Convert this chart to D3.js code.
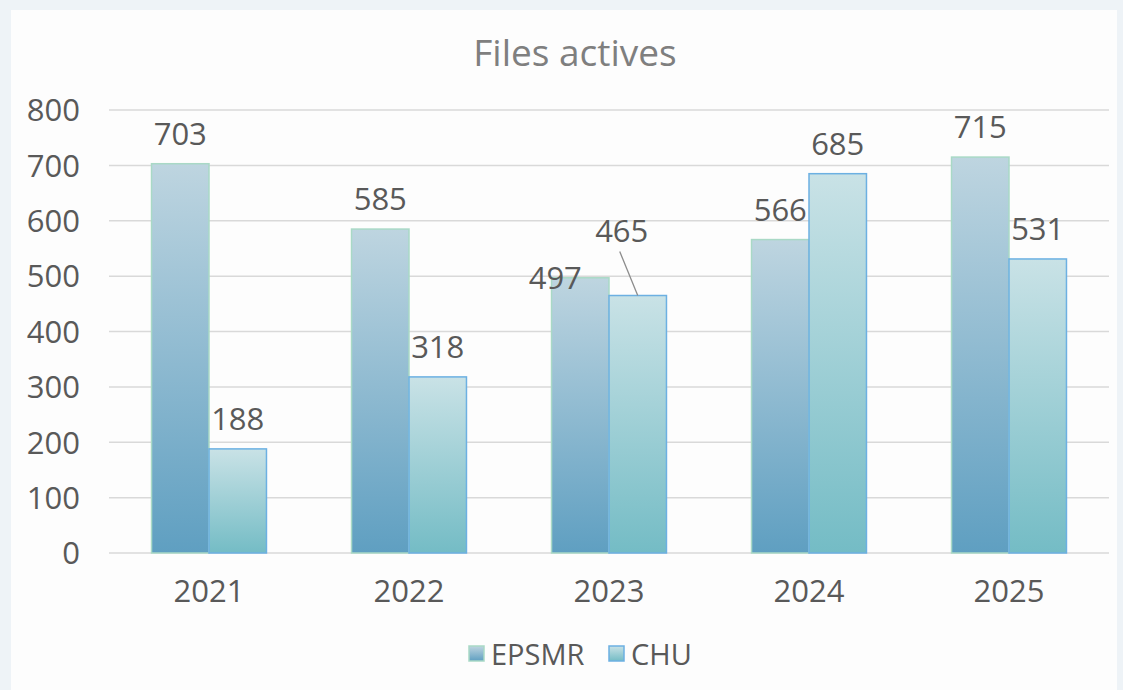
<!DOCTYPE html>
<html>
<head>
<meta charset="utf-8">
<script src="https://cdn.jsdelivr.net/npm/d3@7"></script>
<style>
  body { margin: 0; background: #eef3f7; }
  svg { display: block; }
  text { font-family: "Open Sans", sans-serif; }
</style>
</head>
<body>
<svg id="chart" width="1123" height="690"></svg>
<script>
// Data
var years = ["2021", "2022", "2023", "2024", "2025"];
var epsmr = [703, 585, 497, 566, 715];
var chu = [188, 318, 465, 685, 531];
var seriesNames = ["EPSMR", "CHU"];
var yTicks = [0, 100, 200, 300, 400, 500, 600, 700, 800];

var svg = d3.select("#chart");

// white chart panel
svg.append("rect").attr("x", 11).attr("y", 10).attr("width", 1106).attr("height", 690).attr("fill", "#fdfdfd");

var margin = {left: 109, right: 14, top: 110, bottom: 137};
var width = 1123 - margin.left - margin.right,
    height = 690 - margin.top - margin.bottom;

var defs = svg.append("defs");
var g1 = defs.append("linearGradient").attr("id", "gEps").attr("x1", 0).attr("y1", 0).attr("x2", 0).attr("y2", 1);
g1.append("stop").attr("offset", "0%").attr("stop-color", "#bed5e0");
g1.append("stop").attr("offset", "100%").attr("stop-color", "#5f9fc1");
var g2 = defs.append("linearGradient").attr("id", "gChu").attr("x1", 0).attr("y1", 0).attr("x2", 0).attr("y2", 1);
g2.append("stop").attr("offset", "0%").attr("stop-color", "#c9e2e6");
g2.append("stop").attr("offset", "100%").attr("stop-color", "#74bcc5");

var fills = ["url(#gEps)", "url(#gChu)"];
var strokes = ["#a9d9c6", "#6cb0e2"];

var g = svg.append("g").attr("transform", "translate(" + margin.left + "," + margin.top + ")");

var x = d3.scaleBand().domain(years).range([0, width]).paddingInner(0).paddingOuter(0);
var xs = d3.scaleBand().domain(seriesNames).range([0, x.bandwidth()]).paddingInner(0).paddingOuter(0.74);
var y = d3.scaleLinear().domain([0, 800]).range([height, 0]);

// gridlines
g.selectAll("line.grid")
  .data(yTicks)
  .enter().append("line")
    .attr("x1", 0).attr("x2", width)
    .attr("y1", d => y(d)).attr("y2", d => y(d))
    .style("stroke", "#d9d9d9")
    .style("stroke-width", 1.5);

// y axis labels
var yAxis = d3.axisLeft(y).tickValues(yTicks).tickSize(0).tickPadding(29);
var ya = g.append("g").call(yAxis);
ya.select(".domain").remove();
ya.selectAll("text").style("font-size", "31px").attr("fill", "#595959").attr("dy", "0.35em");

// x axis labels
var xAxis = d3.axisBottom(x).tickSize(0).tickPadding(27);
var xa = g.append("g").attr("transform", "translate(0," + height + ")").call(xAxis);
xa.select(".domain").remove();
xa.selectAll("text").style("font-size", "31px").attr("fill", "#595959");

var data = years.map((yr, i) => ({year: yr, values: [epsmr[i], chu[i]]}));

// label offsets (dx, dy) for the crowded 2023 group
var labelShift = {"2023": [[-25, 30], [-16, -35]]};

var grp = g.selectAll("g.year")
  .data(data)
  .enter().append("g")
    .attr("transform", d => "translate(" + x(d.year) + ",0)");

grp.selectAll("rect")
  .data(d => d.values.map((v, k) => ({name: seriesNames[k], k: k, v: v, year: d.year})))
  .enter().append("rect")
    .attr("x", d => xs(d.name))
    .attr("y", d => y(d.v))
    .attr("width", xs.bandwidth())
    .attr("height", d => height - y(d.v))
    .attr("fill", d => fills[d.k])
    .attr("stroke", d => strokes[d.k])
    .attr("stroke-width", 1.5);

grp.selectAll("text.val")
  .data(d => d.values.map((v, k) => ({name: seriesNames[k], k: k, v: v, year: d.year})))
  .enter().append("text")
    .attr("x", d => xs(d.name) + xs.bandwidth() / 2 + (labelShift[d.year] ? labelShift[d.year][d.k][0] : 0))
    .attr("y", d => y(d.v) - 19 + (labelShift[d.year] ? labelShift[d.year][d.k][1] : 0))
    .attr("text-anchor", "middle")
    .style("font-size", "31px")
    .attr("fill", "#595959")
    .text(d => d.v);

// leader line for the moved 465 label
var ix = years.indexOf("2023");
var cx = x("2023") + xs("CHU") + xs.bandwidth() / 2;
g.append("line")
  .attr("x1", cx - 18)
  .attr("y1", y(chu[ix]) - 44)
  .attr("x2", cx)
  .attr("y2", y(chu[ix]))
  .style("stroke", "#8c8c8c")
  .style("stroke-width", 1.3);

// title
svg.append("text")
  .attr("x", 575).attr("y", 66)
  .attr("text-anchor", "middle")
  .style("font-size", "37px")
  .attr("fill", "#7f7f7f")
  .text("Files actives");

// legend
var legend = svg.append("g").attr("transform", "translate(469,655)");
var items = legend.selectAll("g").data(seriesNames).enter().append("g")
  .attr("transform", (d, i) => "translate(" + (i === 0 ? 0 : 140) + ",0)");
items.append("rect")
  .attr("x", 0).attr("y", -9).attr("width", 15).attr("height", 15)
  .attr("fill", (d, i) => fills[i])
  .attr("stroke", (d, i) => strokes[i])
  .attr("stroke-width", 1.5);
items.append("text")
  .attr("x", 22).attr("y", 0).attr("dy", "0.35em")
  .style("font-size", "29px")
  .attr("fill", "#595959")
  .text(d => d);
</script>
</body>
</html>
